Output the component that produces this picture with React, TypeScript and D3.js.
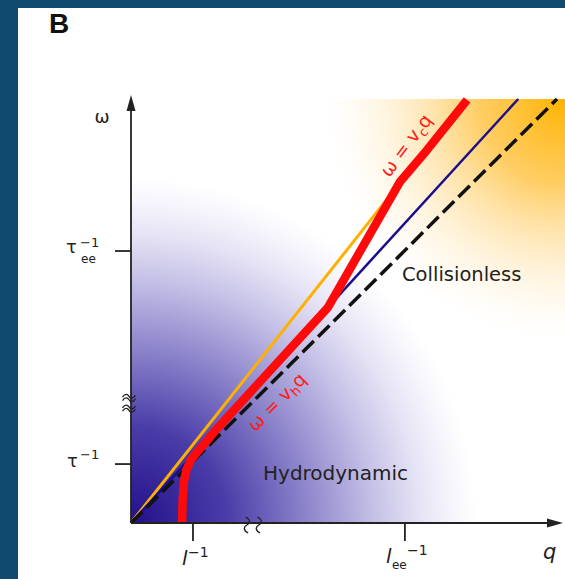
import React from "react";
import * as d3 from "d3";

// ---- data (q, ω in arbitrary units) ----
const qTickValues = [1.455, 6.43];
const wTickValues = [1.39, 6.415];
const dashedLine: [number, number][] = [[0, 0], [10, 10]];
const blueLine: [number, number][] = [[0, 0], [9.09, 10]];
const orangeLine: [number, number][] = [[0, 0], [6.28, 7.98]];
const redCurve: [number, number][] = [
  [1.2, 0], [1.21, 0.5], [1.24, 0.95], [1.3, 1.25], [1.4, 1.48], [1.55, 1.67],
  [1.75, 1.9], [1.97, 2.17], [4.62, 5.08], [6.31, 8.04], [6.95, 8.8], [7.89, 9.98],
];
const regionLabels = ["Collisionless", "Hydrodynamic"];
const wBreaks = [2.95, 2.7];
const qBreaks = [2.72, 3.0];

const W = 565, H = 579;
const x = d3.scaleLinear().domain([0, 10]).range([131, 557]);
const y = d3.scaleLinear().domain([0, 10]).range([523, 99]);

function tilde(cx: number, cy: number, w: number, a: number) {
  const h = w / 2;
  return `M${cx - h},${cy + a * 0.4} C${cx - h * 0.6},${cy - a * 1.4} ${cx - h * 0.2},${cy - a} ${cx},${cy} S${cx + h * 0.6},${cy + a * 1.4} ${cx + h},${cy - a * 0.4}`;
}

export default function App() {
  const line = d3.line<[number, number]>().x(d => x(d[0])).y(d => y(d[1]));
  const font = "'DejaVu Sans', Verdana, sans-serif";
  const ink = "#222";
  const x0 = x(0), y0 = y(0);
  const vcPos = [6.46, 8.9];
  const vhPos = [3.43, 2.85];
  return (
    <svg width={W} height={H} style={{ position: "absolute", left: 0, top: 0 }} fontFamily={font}>
      <defs>
        <radialGradient id="purp" gradientUnits="userSpaceOnUse" cx={x0} cy={y0} r={345}>
          <stop offset="0" stopColor="#22108a" />
          <stop offset="0.28" stopColor="#4a3da8" />
          <stop offset="0.5" stopColor="#8a82ca" />
          <stop offset="0.7" stopColor="#c4bfe6" />
          <stop offset="0.84" stopColor="#e6e4f5" />
          <stop offset="0.93" stopColor="#f6f5fc" />
          <stop offset="1" stopColor="#ffffff" />
        </radialGradient>
        <radialGradient id="orng" gradientUnits="userSpaceOnUse" cx={W} cy={y(10)} r={245}>
          <stop offset="0" stopColor="#ffb300" stopOpacity="1" />
          <stop offset="0.35" stopColor="#ffc447" stopOpacity="0.85" />
          <stop offset="0.65" stopColor="#ffdd99" stopOpacity="0.5" />
          <stop offset="0.85" stopColor="#ffeecc" stopOpacity="0.25" />
          <stop offset="1" stopColor="#ffffff" stopOpacity="0" />
        </radialGradient>
      </defs>
      <rect x={0} y={0} width={W} height={H} fill="#0e4a6e" />
      <rect x={18} y={8} width={W - 18} height={H - 8} fill="#ffffff" />
      <text x={49} y={33} fontFamily="'Liberation Sans', Arial, sans-serif" fontWeight="bold" fontSize={28} fill="#111">B</text>

      {/* shaded regions */}
      <rect x={x0} y={y(10)} width={W - x0} height={y0 - y(10)} fill="url(#purp)" />
      <rect x={300} y={y(10)} width={W - 300} height={270} fill="url(#orng)" />

      {/* lines */}
      <path d={line(orangeLine)!} stroke="#ffb000" strokeWidth={3} fill="none" />
      <path d={line(blueLine)!} stroke="#1c0d8c" strokeWidth={2.5} fill="none" />
      <path d={line(dashedLine)!} stroke="#111" strokeWidth={3.5} strokeDasharray="16,6" fill="none" />
      <path d={line(redCurve)!} stroke="#ff0a0a" strokeWidth={8.5} strokeLinejoin="round" fill="none" />

      {/* axes */}
      <line x1={x0} y1={y0} x2={x0} y2={105} stroke={ink} strokeWidth={1.8} />
      <path d={`M${x0},95 L${x0 - 4.5},111 L${x0 + 4.5},111 Z`} fill={ink} />
      <line x1={x0} y1={y0} x2={555} y2={y0} stroke={ink} strokeWidth={1.8} />
      <path d={`M563,${y0} L547,${y0 - 4.5} L547,${y0 + 4.5} Z`} fill={ink} />
      {wTickValues.map((v, i) => (
        <line key={"wt" + i} x1={115} x2={x0} y1={y(v)} y2={y(v)} stroke={ink} strokeWidth={1.8} />
      ))}
      {qTickValues.map((v, i) => (
        <line key={"qt" + i} x1={x(v)} x2={x(v)} y1={y0} y2={y0 + 18} stroke={ink} strokeWidth={1.8} />
      ))}

      {/* axis breaks */}
      {wBreaks.map((v, i) => (
        <g key={"wb" + i} stroke={ink} strokeWidth={1.3} fill="none">
          <path d={tilde(x0 - 2, y(v) - 1.6, 13, 2.2)} />
          <path d={tilde(x0 - 2, y(v) + 1.8, 13, 2.2)} />
        </g>
      ))}
      {qBreaks.map((v, i) => (
        <g key={"qb" + i} transform={`translate(${x(v)},${y0 + 2}) rotate(90)`} stroke={ink} strokeWidth={1.4} fill="none">
          <path d={tilde(0, 0, 16, 3)} />
        </g>
      ))}

      {/* axis labels */}
      <text x={102} y={123} fontSize={18} textAnchor="middle" fill={ink}>ω</text>
      <text x={66} y={y(wTickValues[1]) + 2} fontSize={18} fill={ink}>τ</text>
      <text x={81} y={y(wTickValues[1]) + 12} fontSize={12} fill={ink}>ee</text>
      <text x={80} y={y(wTickValues[1]) - 4} fontSize={13} fill={ink}>−1</text>
      <text x={67} y={y(wTickValues[0]) + 3} fontSize={18} fill={ink}>τ</text>
      <text x={80} y={y(wTickValues[0]) - 5} fontSize={13} fill={ink}>−1</text>

      <text x={x(qTickValues[0]) - 11} y={565} fontSize={20} fontStyle="italic" fill={ink}>l</text>
      <text x={x(qTickValues[0]) - 5} y={557} fontSize={14} fill={ink}>−1</text>
      <text x={x(qTickValues[1]) - 19} y={563} fontSize={20} fontStyle="italic" fill={ink}>l</text>
      <text x={x(qTickValues[1]) - 13} y={569} fontSize={12} fill={ink}>ee</text>
      <text x={x(qTickValues[1]) + 2} y={555} fontSize={14} fill={ink}>−1</text>
      <text x={543} y={559} fontSize={21} fontStyle="italic" fill={ink}>q</text>

      {/* region labels */}
      <text x={402} y={281} fontSize={19.5} fill={ink}>{regionLabels[0]}</text>
      <text x={263} y={480} fontSize={20} fill={ink}>{regionLabels[1]}</text>

      {/* curve labels */}
      <text transform={`translate(${x(vcPos[0])},${y(vcPos[1])}) rotate(-53)`} textAnchor="middle" fontSize={18.5} fill="#ff1a1a" dy={6}>
        ω = v<tspan fontSize={13} dy={4}>c</tspan><tspan dy={-4}>q</tspan>
      </text>
      <text transform={`translate(${x(vhPos[0])},${y(vhPos[1])}) rotate(-45)`} textAnchor="middle" fontSize={18.5} fill="#ff1a1a" dy={6}>
        ω = v<tspan fontSize={13} dy={4}>h</tspan><tspan dy={-4}>q</tspan>
      </text>
    </svg>
  );
}
